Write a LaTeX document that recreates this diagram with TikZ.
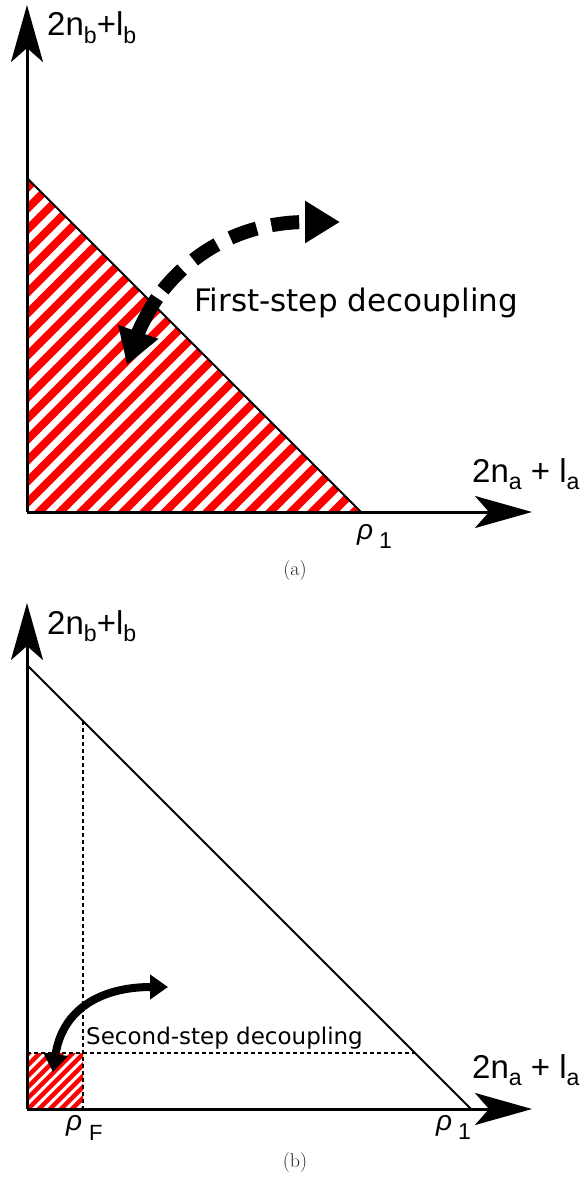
\documentclass[tikz,border=0pt]{standalone}
\usepackage{fontspec}
\newfontfamily\axisfont{Liberation Sans}
\newfontfamily\turnfont{DejaVu Sans}
\usetikzlibrary{arrows.meta}
\usetikzlibrary{positioning}

\newcommand{\lsub}[1]{\raisebox{-0.22em}{\scalebox{0.7}{#1}}}

\begin{document}
\begin{tikzpicture}[
    x=1pt, y=-1pt,
    axis/.style={line width=3pt, -{Stealth[length=57pt, width=32pt, inset=14pt]}},
    edge/.style={line width=2pt},
    guide/.style={line width=1.6pt, dash pattern=on 4pt off 3pt},
    hatch/.style={red, line width=#1},
    bigturn/.style={line width=14pt, -{Triangle[length=35pt, width=40pt]}},
    smallturn/.style={line width=8pt, {Triangle[length=18pt, width=24pt]}-{Triangle[length=18pt, width=24pt]}},
    axislabel/.style={font=\axisfont\fontsize{33}{36}\selectfont, inner sep=0pt, anchor=base west},
    rholabel/.style={font=\axisfont\fontsize{28}{30}\selectfont, inner sep=0pt, anchor=base west},
    turnlabel/.style={font=\turnfont, inner sep=0pt, anchor=base west},
    caption/.style={font=\fontsize{20}{22}\selectfont, text=black!85, inner sep=0pt}
    ]

    \useasboundingbox (0,0) rectangle (584,1182);

    % Panel (a)
    \coordinate (Oa) at (27,512);
    \coordinate (Ya) at (27,5);
    \coordinate (Xa) at (532,512);
    \coordinate (Ta) at (27,178);
    \coordinate (Ra) at (361,512);

    \begin{scope}
        \clip (Oa) -- (Ta) -- (Ra) -- cycle;
        \foreach \s in {-420,-399,...,380}
            \draw[hatch=8pt] (\s,530) -- ++(420,-420);
    \end{scope}

    \draw[edge] (Ta) -- (Ra);
    \draw[axis] (Oa) -- (Ya);
    \draw[axis] (Oa) -- (Xa);

    \node[axislabel] (ya) at (47,36) {2n\lsub{b}+l\lsub{b}};
    \node[axislabel] (xa) at (472,482) {2n\lsub{a} + l\lsub{a}};
    \node[rholabel] (r1a) at (357,539) {\itshape ρ\hspace{6pt}\raisebox{-9pt}{\fontsize{23}{25}\selectfont\upshape 1}};

    \coordinate (Da) at (163,290);
    \coordinate (Ea) at (340,222);
    \coordinate (Sa) at (157,298);
    \coordinate (Ua) at (127,365);
    \draw[bigturn, dash pattern=on 28pt off 15pt] (Da) .. controls +(32,-40) and +(-95,0) .. (Ea);
    \draw[bigturn] (Sa) .. controls +(-10,15) and +(12,-35) .. (Ua);

    \node[turnlabel, font=\turnfont\fontsize{31}{34}\selectfont] (fa) at (194,311) {First-step decoupling};

    \node[caption] (capa) at (295,571) {(a)};

    % Panel (b)
    \coordinate (Ob) at (27,1109);
    \coordinate (Yb) at (27,603);
    \coordinate (Xb) at (532,1109);
    \coordinate (Tb) at (27,665);
    \coordinate (Rb) at (471,1109);
    \coordinate (Fb) at (83,1109);
    \coordinate (Fc) at (83,1053);
    \coordinate (Fh) at (27,1053);
    \coordinate (Fv) at (83,721);
    \coordinate (Fe) at (415,1053);

    \begin{scope}
        \clip (Fh) rectangle (Fb);
        \foreach \s in {-66,-55,...,90}
            \draw[hatch=4.3pt] (\s,1115) -- ++(70,-70);
    \end{scope}

    \draw[guide] (Fv) -- (Fb);
    \draw[guide] (Fh) -- (Fe);
    \draw[edge] (Tb) -- (Rb);
    \draw[axis] (Ob) -- (Yb);
    \draw[axis] (Ob) -- (Xb);

    \node[axislabel] (yb) at (47,634) {2n\lsub{b}+l\lsub{b}};
    \node[axislabel] (xb) at (472,1078) {2n\lsub{a} + l\lsub{a}};
    \node[rholabel] (rfb) at (66,1130) {\itshape ρ\hspace{7pt}\raisebox{-10pt}{\fontsize{22}{24}\selectfont\upshape F}};
    \node[rholabel] (r1b) at (436,1130) {\itshape ρ\hspace{6pt}\raisebox{-9pt}{\fontsize{23}{25}\selectfont\upshape 1}};

    \coordinate (Db) at (53,1072);
    \coordinate (Eb) at (168,987);
    \draw[smallturn] (Db) .. controls +(9,-62) and +(-68,0) .. (Eb);

    \node[turnlabel, font=\turnfont\fontsize{23}{26}\selectfont] (sb) at (86,1044) {Second-step decoupling};

    \node[caption] (capb) at (295,1162) {(b)};

\end{tikzpicture}
\end{document}
